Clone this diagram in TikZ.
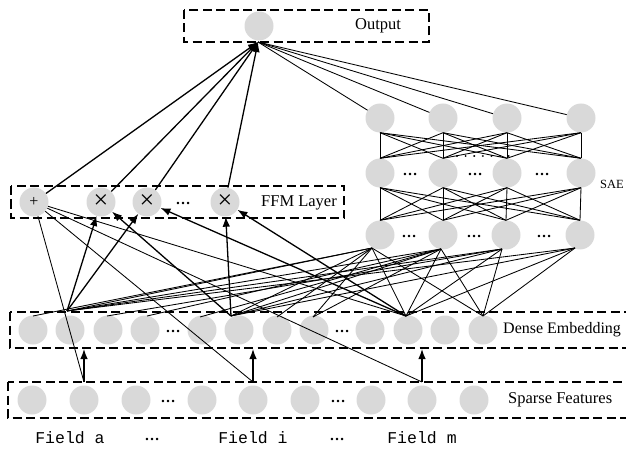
\documentclass[tikz,border=0pt]{standalone}
\usepackage{fontspec}
\setmainfont{Liberation Serif}
\newfontfamily\monofont{Liberation Mono}
\usetikzlibrary{arrows.meta}
\definecolor{cgray}{RGB}{217,217,217}
\begin{document}
\begin{tikzpicture}[x=1pt,y=-1pt,
  unit/.style={circle,fill=cgray,minimum size=29pt,inner sep=0pt},
  box/.style={draw,dash pattern=on 9pt off 4.5pt,line width=1.2pt},
  thinl/.style={line width=0.85pt},
  arr/.style={line width=1.3pt,-{Latex[length=10pt,width=7.5pt]}},
  lbl/.style={font=\fontsize{16.5}{18}\selectfont,inner sep=0pt},
  dts/.style={font=\fontsize{15}{15}\selectfont\bfseries,inner sep=0pt},
  fld/.style={font=\fontsize{16.5}{18}\selectfont\monofont,inner sep=0pt},
]
\useasboundingbox (0,0) rectangle (626,449);
\clip (0,0) rectangle (626,449);

% boxes
\draw[box] (184,10) rectangle (429,42);
\draw[box] (11,186) rectangle (344,218);
\draw[box] (10,312) rectangle (650,348);
\draw[box] (8,382) rectangle (650,418);

% output
\node[unit] (out) at (259,26) {};
\node[lbl] (outl) at (378,26) {Output};
\coordinate (oin) at (258,42);

% FFM layer
\node[unit] (plus) at (34,202) {\fontsize{16}{16}\selectfont +};
\node[unit] (x1) at (101,202) {\fontsize{26}{26}\selectfont ×};
\node[unit] (x2) at (147,202) {\fontsize{26}{26}\selectfont ×};
\node[dts] (fdots) at (183,203) {…};
\node[unit] (x3) at (225,202) {\fontsize{26}{26}\selectfont ×};
\node[lbl] (ffml) at (299,203) {FFM Layer};

% SAE
\foreach \n/\x in {1/380,2/443,3/507,4/581}{
  \node[unit] (t\n) at (\x,118) {};
  \node[unit] (m\n) at (\x,173) {};
}
\foreach \n/\x in {1/380,2/443,3/506,4/580}{
  \node[unit] (b\n) at (\x,235) {};
}
\foreach \n/\x in {1/410,2/475,3/542}{
  \node[dts] (md\n) at (\x,174) {…};
}
\foreach \n/\x in {1/409,2/474,3/544}{
  \node[dts] (bd\n) at (\x,236) {…};
}
\node[font=\fontsize{12.5}{14}\selectfont,inner sep=0pt] (sael) at (612,184) {SAE};
\foreach \i in {1,...,4}{
  \foreach \j in {1,...,4}{
    \draw[thinl] (t\i.south) -- (m\j.north);
    \draw[thinl] (m\i.south) -- (b\j.north);
  }
}
\draw[line width=2.2pt,line cap=round,dash pattern=on 0.01pt off 8.6pt] (457,156) -- (510,156);

% dense embedding
\foreach \n/\x in {1/33,2/70,3/108,4/145,5/202,6/239,7/277,8/314,9/370,10/408,11/445,12/483}{
  \node[unit] (d\n) at (\x,330) {};
}
\node[dts] (dd1) at (173,331) {…};
\node[dts] (dd2) at (342,331) {…};
\node[font=\fontsize{16}{18}\selectfont,inner sep=0pt,anchor=west] (densel) at (503,330) {Dense Embedding};

% sparse features
\foreach \n/\x in {1/32,2/84,3/136,4/202,5/253,6/305,7/371,8/422,9/474}{
  \node[unit] (s\n) at (\x,400) {};
}
\node[dts] (sd1) at (168,401) {…};
\node[dts] (sd2) at (338,401) {…};
\node[lbl,anchor=west] (sparsel) at (508,400) {Sparse Features};

% field labels
\node[fld] (fa) at (70,438) {Field a};
\node[dts] (fdt1) at (152,439) {…};
\node[fld] (fi) at (253,438) {Field i};
\node[dts] (fdt2) at (337,439) {…};
\node[fld] (fm) at (422,438) {Field m};

% coordinates
\coordinate (hA) at (67,311);
\coordinate (hI) at (231,316);
\coordinate (hM) at (406,316);
\coordinate (hN) at (483,316);
\coordinate (sb1) at (372,248);
\coordinate (sb2) at (441,249);
\coordinate (sb3) at (502,249);
\coordinate (sb4) at (575,248);
\coordinate (e1) at (33,316);
\coordinate (e3) at (107,316);
\coordinate (e4) at (147,316);
\coordinate (e5) at (200,317);
\coordinate (e7) at (277,317);
\coordinate (e8) at (313,317);
\coordinate (pa) at (84,382);
\coordinate (pi) at (253,382);
\coordinate (pm) at (422,382);
\coordinate (qa) at (84,349);
\coordinate (qi) at (253,349);
\coordinate (qm) at (422,349);

% sparse -> dense
\draw[arr] (pa) -- (qa);
\draw[arr] (pi) -- (qi);
\draw[arr] (pm) -- (qm);

% linear part
\draw[thinl] (plus) -- (pa);
\draw[thinl] (plus) -- (pi);
\draw[thinl] (plus) -- (pm);
\draw[thinl] (plus) -- (hM);

% dense -> SAE
\foreach \h in {hA,hI,hM,hN}{
  \foreach \s in {sb1,sb2,sb3,sb4}{
    \draw[thinl] (\h) -- (\s);
  }
}
\draw[thinl] (e1) -- (sb1);
\draw[thinl] (e3) -- (sb3);
\draw[thinl] (e4) -- (sb2);
\draw[thinl] (e5) -- (sb2);
\draw[thinl] (e7) -- (sb1);
\draw[thinl] (e8) -- (sb1);
\draw[thinl] (e8) -- (sb2);

% dense -> FFM
\draw[arr] (hA) -- (x1);
\draw[arr] (hA) -- (x2);
\draw[arr] (hI) -- (x1);
\draw[arr] (hI) -- (x3);
\draw[arr] (hM) -- (x2);
\draw[arr] (hM) -- (x3);

% to output
\draw[arr] (plus) -- (oin);
\draw[arr] (x1) -- (oin);
\draw[arr] (x2) -- (oin);
\draw[arr] (x3) -- (oin);
\foreach \n in {1,...,4}{
  \draw[thinl] (oin) -- (t\n);
}
\end{tikzpicture}
\end{document}
